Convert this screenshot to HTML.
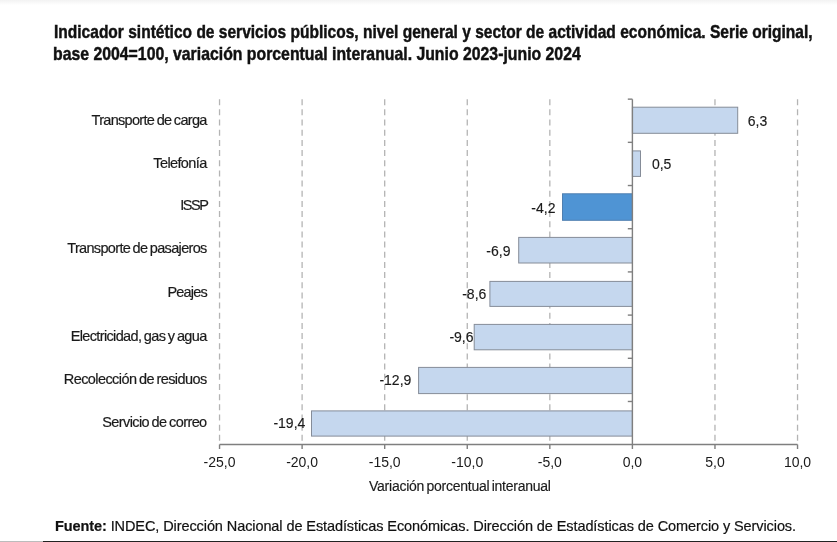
<!DOCTYPE html>
<html><head><meta charset="utf-8">
<style>
html,body{margin:0;padding:0;}
body{width:837px;height:542px;position:relative;overflow:hidden;background:#fff;font-family:"Liberation Sans",sans-serif;color:#1a1a1a;}
.topband{position:absolute;left:0;top:0;width:837px;height:5px;background:linear-gradient(#f2f2f2,#fafafa 60%,#fff);}
.botline{position:absolute;left:0;top:541px;width:837px;height:1px;background:linear-gradient(90deg,#bcbcbc 0,#bcbcbc 43px,#222 43px);}
.t{position:absolute;filter:grayscale(1);white-space:nowrap;line-height:14px;height:14px;}
.title{font-weight:bold;-webkit-text-stroke:0.45px #111;font-size:17.7px;line-height:20px;height:20px;color:#111;transform-origin:0 0;}
.cat{font-size:14.5px;-webkit-text-stroke:0.2px #222;right:631px;transform-origin:100% 0;}
.val{font-size:14px;-webkit-text-stroke:0.15px #222;}
.ax{font-size:14px;}
svg{position:absolute;left:0;top:0;}
</style></head><body>
<div class="topband"></div>
<svg width="837" height="542" viewBox="0 0 837 542">
<g stroke="#b4b4b4" stroke-width="1.3" stroke-dasharray="6 4.17">
<line x1="219.54" y1="99.2" x2="219.54" y2="444.5"/>
<line x1="302.11" y1="99.2" x2="302.11" y2="444.5"/>
<line x1="384.69" y1="99.2" x2="384.69" y2="444.5"/>
<line x1="467.26" y1="99.2" x2="467.26" y2="444.5"/>
<line x1="549.83" y1="99.2" x2="549.83" y2="444.5"/>
<line x1="714.97" y1="99.2" x2="714.97" y2="444.5"/>
<line x1="797.54" y1="99.2" x2="797.54" y2="444.5"/>
</g>
<g stroke="#858c98" stroke-width="1">
<rect x="632.40" y="107.20" width="105.30" height="26.10" fill="#c5d7ee"/>
<rect x="632.40" y="150.90" width="8.10" height="25.50" fill="#c5d7ee"/>
<rect x="562.50" y="193.80" width="69.90" height="26.50" fill="#4f94d4" stroke="#4f7fb0"/>
<rect x="518.70" y="237.40" width="113.70" height="25.60" fill="#c5d7ee"/>
<rect x="489.90" y="281.40" width="142.50" height="25.00" fill="#c5d7ee"/>
<rect x="474.20" y="324.40" width="158.20" height="25.40" fill="#c5d7ee"/>
<rect x="418.60" y="367.40" width="213.80" height="26.20" fill="#c5d7ee"/>
<rect x="311.50" y="410.90" width="320.90" height="25.20" fill="#c5d7ee"/>
</g>
<g stroke="#7f7f7f" stroke-width="1.4" fill="none">
<line x1="632.4" y1="99.2" x2="632.4" y2="449"/>
<line x1="219.54" y1="444.5" x2="797.54" y2="444.5"/>
<line x1="627.8" y1="99.15" x2="632.4" y2="99.15"/>
<line x1="627.8" y1="142.34" x2="632.4" y2="142.34"/>
<line x1="627.8" y1="185.53" x2="632.4" y2="185.53"/>
<line x1="627.8" y1="228.72" x2="632.4" y2="228.72"/>
<line x1="627.8" y1="271.91" x2="632.4" y2="271.91"/>
<line x1="627.8" y1="315.10" x2="632.4" y2="315.10"/>
<line x1="627.8" y1="358.29" x2="632.4" y2="358.29"/>
<line x1="627.8" y1="401.48" x2="632.4" y2="401.48"/>
<line x1="219.54" y1="444.5" x2="219.54" y2="449"/>
<line x1="302.11" y1="444.5" x2="302.11" y2="449"/>
<line x1="384.69" y1="444.5" x2="384.69" y2="449"/>
<line x1="467.26" y1="444.5" x2="467.26" y2="449"/>
<line x1="549.83" y1="444.5" x2="549.83" y2="449"/>
<line x1="714.97" y1="444.5" x2="714.97" y2="449"/>
<line x1="797.54" y1="444.5" x2="797.54" y2="449"/>
</g>
</svg>
<div class="t title" style="left:54px;top:21.7px;transform:scaleX(0.878)">Indicador sintético de servicios públicos, nivel general y sector de actividad económica. Serie original,</div>
<div class="t title" style="left:53px;top:44.2px;transform:scaleX(0.894)">base 2004=100, variación porcentual interanual. Junio 2023-junio 2024</div>
<div class="t cat" style="top:112.5px;letter-spacing:-0.687px;word-spacing:-0.9px;right:630.31px">Transporte de carga</div>
<div class="t cat" style="top:155.5px;letter-spacing:-0.618px;word-spacing:-0.9px;right:630.38px">Telefonía</div>
<div class="t cat" style="top:197.8px;letter-spacing:-1.462px;word-spacing:-0.9px;right:629.54px">ISSP</div>
<div class="t cat" style="top:241.4px;letter-spacing:-0.671px;word-spacing:-0.9px;right:630.33px">Transporte de pasajeros</div>
<div class="t cat" style="top:284.7px;letter-spacing:-0.823px;word-spacing:-0.9px;right:630.18px">Peajes</div>
<div class="t cat" style="top:328.6px;letter-spacing:-0.635px;word-spacing:-0.9px;right:630.36px">Electricidad, gas y agua</div>
<div class="t cat" style="top:371.6px;letter-spacing:-0.582px;word-spacing:-0.9px;right:630.42px">Recolección de residuos</div>
<div class="t cat" style="top:414.8px;letter-spacing:-0.592px;word-spacing:-0.9px;right:630.41px">Servicio de correo</div>
<div class="t val" style="left:747.8px;top:114.3px">6,3</div>
<div class="t val" style="left:651.9px;top:157.4px">0,5</div>
<div class="t val" style="left:531.3px;top:200.6px">-4,2</div>
<div class="t val" style="left:486.3px;top:243.8px">-6,9</div>
<div class="t val" style="left:462.2px;top:286.9px">-8,6</div>
<div class="t val" style="left:449.4px;top:330.1px">-9,6</div>
<div class="t val" style="left:379.4px;top:373.3px">-12,9</div>
<div class="t val" style="left:273.4px;top:416.4px">-19,4</div>
<div class="t ax" style="left:159.5px;width:120px;text-align:center;top:455px">-25,0</div>
<div class="t ax" style="left:242.1px;width:120px;text-align:center;top:455px">-20,0</div>
<div class="t ax" style="left:324.7px;width:120px;text-align:center;top:455px">-15,0</div>
<div class="t ax" style="left:407.3px;width:120px;text-align:center;top:455px">-10,0</div>
<div class="t ax" style="left:489.8px;width:120px;text-align:center;top:455px">-5,0</div>
<div class="t ax" style="left:572.4px;width:120px;text-align:center;top:455px">0,0</div>
<div class="t ax" style="left:655.0px;width:120px;text-align:center;top:455px">5,0</div>
<div class="t ax" style="left:737.5px;width:120px;text-align:center;top:455px">10,0</div>
<div class="t ax" style="left:369px;top:479px;letter-spacing:-0.24px;word-spacing:-1.4px;-webkit-text-stroke:0.15px #222">Variación porcentual interanual</div>
<div class="t" style="left:55px;top:519px;font-size:14.5px;letter-spacing:-0.09px;-webkit-text-stroke:0.2px #111;color:#111"><b>Fuente:</b> INDEC, Dirección Nacional de Estadísticas Económicas. Dirección de Estadísticas de Comercio y Servicios.</div>
<div class="botline"></div>
</body></html>
